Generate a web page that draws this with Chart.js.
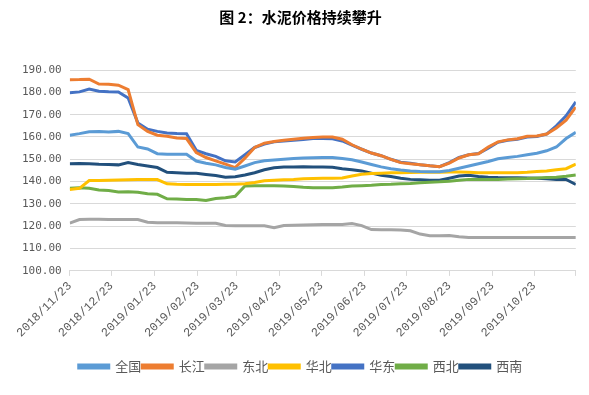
<!DOCTYPE html>
<html>
<head>
<meta charset="utf-8">
<script src="https://cdn.jsdelivr.net/npm/chart.js@4"></script>
<style>
  body { margin: 0; background: #fff; }
  #wrap { width: 589px; height: 395px; }
</style>
</head>
<body>
<div id="wrap"><canvas id="priceChart"></canvas></div>
<script>
// day offsets from 2018/11/23, one reading per week
const days = [0, 7, 14, 21, 28, 35, 42, 49, 56, 63, 70, 77, 84, 91, 98, 105, 112, 119, 126, 133,
  140, 147, 154, 161, 168, 175, 182, 189, 196, 203, 210, 217, 224, 231, 238, 245, 252, 259, 266, 273,
  280, 287, 294, 301, 308, 315, 322, 329, 336, 343, 350, 357, 364];

// month ticks on the x axis
const tickDays = [0, 30, 61, 92, 120, 151, 181, 212, 242, 273, 304, 334, 364];
const tickLabels = ["2018/11/23", "2018/12/23", "2019/01/23", "2019/02/23", "2019/03/23", "2019/04/23",
  "2019/05/23", "2019/06/23", "2019/07/23", "2019/08/23", "2019/09/23", "2019/10/23", ""];

const seriesNames = ["全国", "长江", "东北", "华北", "华东", "西北", "西南"];

const quanguo = [160.8, 161.5, 162.3, 162.4, 162.2, 162.5, 161.5, 155.5, 154.6, 152.5, 152.3, 152.3, 152.3, 149.2,
  148.2, 147.5, 146.3, 145.6, 147.0, 148.5, 149.3, 149.7, 150.0, 150.3, 150.6, 150.7, 150.8, 150.8, 150.4,
  149.8, 148.8, 147.7, 146.6, 145.8, 145.2, 144.8, 144.5, 144.4, 144.4, 145.0, 146.0, 147.0, 148.0, 149.0,
  150.2, 150.8, 151.3, 152.0, 152.7, 153.8, 155.5, 159.3, 162.1];
const changjiang = [185.6, 185.7, 185.9, 183.7, 183.6, 183.2, 181.2, 165.5, 162.5, 160.8, 160.3, 159.5, 159.3, 153.0,
  150.8, 149.3, 147.8, 146.3, 150.5, 155.3, 157.2, 158.0, 158.5, 159.0, 159.4, 159.8, 160.0, 160.0, 159.0,
  156.5, 154.5, 152.8, 151.6, 150.0, 148.5, 148.0, 147.6, 147.1, 146.7, 148.3, 150.6, 152.0, 152.5, 155.5,
  157.8, 158.7, 159.2, 160.3, 160.4, 161.3, 164.0, 167.5, 173.4];
const dongbei = [121.4, 123.0, 123.1, 123.1, 123.0, 123.0, 123.0, 123.0, 121.8, 121.6, 121.6, 121.6, 121.5, 121.4,
  121.4, 121.3, 120.3, 120.2, 120.2, 120.2, 120.2, 119.3, 120.3, 120.5, 120.6, 120.7, 120.8, 120.8, 120.8,
  121.2, 120.3, 118.5, 118.4, 118.4, 118.3, 118.0, 116.5, 115.8, 115.8, 115.9, 115.3, 115.0, 115.0, 115.0,
  115.0, 115.0, 115.0, 115.0, 115.0, 115.0, 115.0, 115.0, 115.0];
const huabei = [136.5, 137.0, 140.5, 140.5, 140.6, 140.7, 140.8, 140.9, 140.9, 140.9, 139.0, 138.8, 138.7, 138.7,
  138.7, 138.7, 138.8, 138.8, 139.0, 139.6, 140.4, 140.6, 140.8, 141.0, 141.3, 141.4, 141.5, 141.5, 141.6,
  142.5, 143.3, 143.6, 143.8, 144.0, 144.0, 144.1, 144.2, 144.2, 144.2, 144.3, 144.3, 144.2, 144.0, 144.0,
  144.0, 144.0, 144.0, 144.2, 144.5, 144.8, 145.3, 145.8, 147.8];
const huadong = [179.8, 180.2, 181.5, 180.5, 180.3, 180.2, 177.5, 166.3, 163.5, 162.5, 161.8, 161.5, 161.4, 154.0,
  152.5, 151.3, 149.3, 148.8, 152.0, 155.3, 156.8, 157.8, 158.2, 158.5, 158.9, 159.3, 159.3, 159.2, 158.2,
  156.3, 154.5, 152.8, 151.6, 150.0, 148.7, 148.2, 147.6, 147.1, 146.7, 148.5, 150.8, 152.0, 152.6, 155.0,
  157.6, 158.5, 159.0, 160.0, 160.2, 161.3, 165.0, 169.5, 175.7];
const xibei = [137.0, 137.2, 137.0, 136.2, 136.0, 135.4, 135.5, 135.2, 134.6, 134.3, 132.3, 132.2, 132.0, 132.0,
  131.5, 132.4, 132.8, 133.4, 138.0, 138.1, 138.2, 138.1, 138.0, 137.8, 137.5, 137.3, 137.2, 137.3, 137.6,
  138.0, 138.2, 138.4, 138.7, 138.8, 139.0, 139.2, 139.5, 139.7, 139.9, 140.2, 140.6, 141.0, 141.0, 141.0,
  141.0, 141.2, 141.3, 141.4, 141.6, 141.8, 142.0, 142.4, 143.0];
const xinan = [148.0, 148.1, 148.0, 147.8, 147.7, 147.5, 148.5, 147.7, 147.0, 146.3, 144.2, 144.0, 143.8, 143.7,
  143.2, 142.7, 142.0, 142.2, 143.0, 144.0, 145.3, 146.2, 146.5, 146.6, 146.7, 146.6, 146.5, 146.4, 145.8,
  145.3, 144.8, 143.8, 142.8, 142.3, 141.5, 141.0, 140.8, 140.6, 140.6, 141.5, 142.5, 142.8, 142.3, 142.0,
  141.8, 141.7, 141.7, 141.6, 141.5, 141.3, 141.0, 141.0, 138.7];

const seriesValues = [quanguo, changjiang, dongbei, huabei, huadong, xibei, xinan];
const seriesColors = ["#5B9BD5", "#ED7D31", "#A5A5A5", "#FFC000", "#4472C4", "#70AD47", "#22507C"];

const yTicks = [100, 110, 120, 130, 140, 150, 160, 170, 180, 190];

const gridColor = "#D9D9D9";
const textColor = "#595959";

const datasets = seriesNames.map((name, i) => ({
  label: name,
  data: seriesValues[i].map((v, j) => ({ x: days[j], y: v })),
  borderColor: seriesColors[i],
  backgroundColor: seriesColors[i],
  borderWidth: 3,
  pointRadius: 0,
  tension: 0,
  fill: false,
}));

const ctx = document.getElementById("priceChart");
new Chart(ctx, {
  type: "line",
  data: { datasets: datasets },
  options: {
    responsive: true,
    maintainAspectRatio: false,
    animation: false,
    layout: { padding: { left: 14, right: 2, top: 0, bottom: 12 } },
    plugins: {
      title: {
        display: true,
        text: "图 2：水泥价格持续攀升",
        color: "#000",
        font: { family: "'Noto Sans CJK SC'", size: 15, weight: "bold" },
        padding: { top: 8, bottom: 44 },
      },
      legend: {
        position: "bottom",
        labels: {
          boxWidth: 30,
          boxHeight: 3,
          padding: 1,
          color: textColor,
          font: { family: "'Noto Sans CJK SC'", size: 13 },
        },
      },
      tooltip: { enabled: false },
    },
    scales: {
      x: {
        type: "linear",
        min: 0,
        max: 364,
        afterBuildTicks: (axis) => {
          axis.ticks = tickDays.map((d) => ({ value: d }));
        },
        afterFit: (axis) => {
          axis.height += 16; // gap between date labels and legend
        },
        ticks: {
          autoSkip: false,
          maxRotation: 45,
          minRotation: 45,
          color: textColor,
          font: { family: "'Liberation Mono'", size: 12 },
          callback: (value) => tickLabels[tickDays.indexOf(value)],
        },
        grid: {
          drawOnChartArea: false,
          drawTicks: true,
          tickLength: 5,
          color: gridColor,
        },
        border: { display: true, color: gridColor },
      },
      y: {
        min: 100,
        max: 190,
        afterBuildTicks: (axis) => {
          axis.ticks = yTicks.map((v) => ({ value: v }));
        },
        ticks: {
          color: textColor,
          font: { family: "'DejaVu Sans Mono'", size: 11 },
          padding: 8,
          callback: (value) => value.toFixed(2),
        },
        grid: { color: gridColor, drawTicks: false },
        border: { display: false },
      },
    },
  },
});
</script>
</body>
</html>
